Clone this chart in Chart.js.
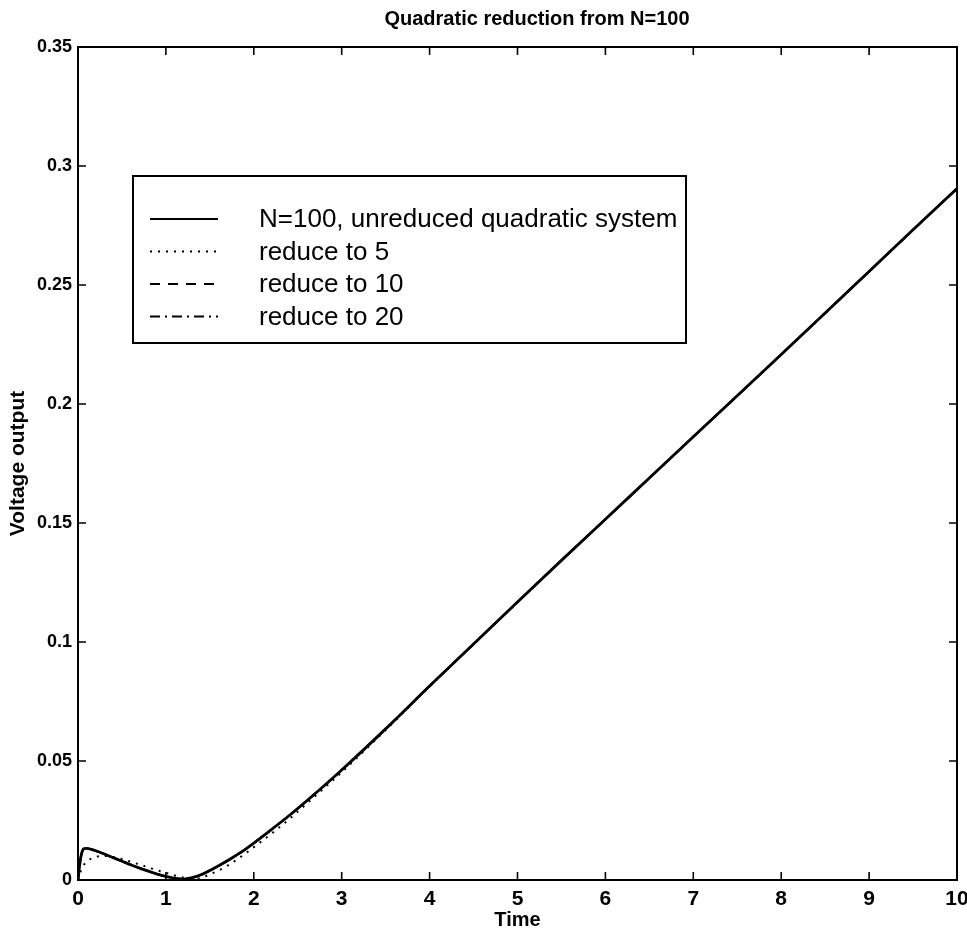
<!DOCTYPE html>
<html>
<head>
<meta charset="utf-8">
<script src="https://cdn.jsdelivr.net/npm/chart.js@4.4.1/dist/chart.umd.min.js"></script>
<style>
  html, body { margin: 0; padding: 0; background: #ffffff; }
  #wrap { width: 967px; height: 944px; }
</style>
</head>
<body>
<div id="wrap"><canvas id="c" width="967" height="944"></canvas></div>
<script>
// ---- data ----
const time = [0, 0.02, 0.04, 0.07, 0.1, 0.15, 0.2, 0.3, 0.4, 0.5, 0.6, 0.7, 0.8, 0.9, 1.0, 1.1, 1.2, 1.3, 1.4, 1.5, 1.6, 1.7, 1.8, 1.9, 2.0, 2.2, 2.4, 2.6, 2.8, 3.0, 3.5, 4.0, 4.5, 5.0, 5.5, 6.0, 6.5, 7.0, 7.5, 8.0, 8.5, 9.0, 9.5, 10.0];
const unreduced = [0, 0.0065, 0.0110, 0.0132, 0.0133, 0.0129, 0.0123, 0.0109, 0.0094, 0.0079, 0.0064, 0.0050, 0.0037, 0.0025, 0.0015, 0.0007, 0.0004, 0.0010, 0.0022, 0.0040, 0.0060, 0.0081, 0.0104, 0.0128, 0.0155, 0.0212, 0.0270, 0.0332, 0.0396, 0.0462, 0.0635, 0.0815, 0.0992, 0.1168, 0.1343, 0.1516, 0.1689, 0.1862, 0.2035, 0.2208, 0.2382, 0.2557, 0.2732, 0.2905];
const reduce5 = [0, 0.0025, 0.0045, 0.0065, 0.0078, 0.0090, 0.0097, 0.0101, 0.0097, 0.0088, 0.0077, 0.0065, 0.0053, 0.0041, 0.0030, 0.0019, 0.0010, 0.0006, 0.0009, 0.0024, 0.0040, 0.0060, 0.0084, 0.0110, 0.0138, 0.0194, 0.0255, 0.0320, 0.0386, 0.0453, 0.0630, 0.0813, 0.0991, 0.1167, 0.1343, 0.1516, 0.1689, 0.1862, 0.2035, 0.2208, 0.2382, 0.2557, 0.2732, 0.2905];
const reduce10 = [0, 0.0065, 0.0110, 0.0132, 0.0133, 0.0129, 0.0123, 0.0109, 0.0094, 0.0079, 0.0064, 0.0050, 0.0037, 0.0025, 0.0015, 0.0007, 0.0004, 0.0010, 0.0022, 0.0040, 0.0060, 0.0081, 0.0104, 0.0128, 0.0155, 0.0212, 0.0270, 0.0332, 0.0396, 0.0462, 0.0635, 0.0815, 0.0992, 0.1168, 0.1343, 0.1516, 0.1689, 0.1862, 0.2035, 0.2208, 0.2382, 0.2557, 0.2732, 0.2905];
const reduce20 = [0, 0.0065, 0.0110, 0.0132, 0.0133, 0.0129, 0.0123, 0.0109, 0.0094, 0.0079, 0.0064, 0.0050, 0.0037, 0.0025, 0.0015, 0.0007, 0.0004, 0.0010, 0.0022, 0.0040, 0.0060, 0.0081, 0.0104, 0.0128, 0.0155, 0.0212, 0.0270, 0.0332, 0.0396, 0.0462, 0.0635, 0.0815, 0.0992, 0.1168, 0.1343, 0.1516, 0.1689, 0.1862, 0.2035, 0.2208, 0.2382, 0.2557, 0.2732, 0.2905];
const seriesLabels = ['N=100, unreduced quadratic system', 'reduce to 5', 'reduce to 10', 'reduce to 20'];
const xTickValues = [0, 1, 2, 3, 4, 5, 6, 7, 8, 9, 10];
const yTickValues = [0, 0.05, 0.1, 0.15, 0.2, 0.25, 0.3, 0.35];
const yTickLabels = ['0', '0.05', '0.1', '0.15', '0.2', '0.25', '0.3', '0.35'];
const titleText = 'Quadratic reduction from N=100';
const xTitle = 'Time';
const yTitle = 'Voltage output';

function pts(ys) { return time.map((t, i) => ({ x: t, y: ys[i] })); }

const INK = '#000000';
const dashes = [[], [2, 6], [10, 8], [10, 5, 2, 5]];
const widths = [2.8, 2, 2, 2];
const seriesData = [unreduced, reduce5, reduce10, reduce20];

// title, frame, inward ticks, legend box
const framePlugin = {
  id: 'frame',
  afterDatasetsDraw(chart) {
    const { ctx, chartArea: a, scales } = chart;
    ctx.save();
    // title
    ctx.fillStyle = INK;
    ctx.font = 'bold 20px "Liberation Sans", Arial, sans-serif';
    ctx.textAlign = 'center';
    ctx.textBaseline = 'middle';
    ctx.fillText(titleText, 537, 19);
    ctx.textAlign = 'left';

    ctx.strokeStyle = INK;
    ctx.lineWidth = 2;
    ctx.strokeRect(a.left, a.top, a.right - a.left, a.bottom - a.top);
    const tl = 8;
    ctx.lineWidth = 1.6;
    ctx.beginPath();
    xTickValues.forEach(v => {
      const px = scales.x.getPixelForValue(v);
      ctx.moveTo(px, a.bottom); ctx.lineTo(px, a.bottom - tl);
      ctx.moveTo(px, a.top); ctx.lineTo(px, a.top + tl);
    });
    yTickValues.forEach(v => {
      const py = scales.y.getPixelForValue(v);
      ctx.moveTo(a.left, py); ctx.lineTo(a.left + tl, py);
      ctx.moveTo(a.right, py); ctx.lineTo(a.right - tl, py);
    });
    ctx.stroke();

    // legend
    const bx = 133, by = 176, bw = 553, bh = 167;
    ctx.fillStyle = '#ffffff';
    ctx.fillRect(bx, by, bw, bh);
    ctx.lineWidth = 2;
    ctx.strokeRect(bx, by, bw, bh);
    ctx.font = '26px "Liberation Sans", Arial, sans-serif';
    ctx.textBaseline = 'middle';
    ctx.fillStyle = INK;
    chart.data.datasets.forEach((ds, i) => {
      const y = 219 + i * 32.5;
      ctx.beginPath();
      ctx.setLineDash(ds.borderDash || []);
      ctx.lineWidth = i === 0 ? 2 : 1.8;
      ctx.moveTo(150, y); ctx.lineTo(218, y);
      ctx.stroke();
      ctx.setLineDash([]);
      ctx.fillText(ds.label, 259, y + 1);
    });
    ctx.restore();
  }
};

new Chart(document.getElementById('c'), {
  type: 'line',
  data: {
    datasets: seriesLabels.map((lab, i) => ({
      label: lab,
      data: pts(seriesData[i]),
      borderColor: INK,
      backgroundColor: INK,
      borderWidth: widths[i],
      borderDash: dashes[i],
      pointRadius: 0,
      fill: false,
      cubicInterpolationMode: 'monotone'
    }))
  },
  options: {
    responsive: false,
    animation: false,
    devicePixelRatio: 1,
    layout: { padding: { left: 0, right: 10, top: 47, bottom: 0 } },
    plugins: {
      legend: { display: false },
      tooltip: { enabled: false },
      title: { display: false }
    },
    scales: {
      x: {
        type: 'linear',
        min: 0, max: 10,
        afterBuildTicks(s) { s.ticks = xTickValues.map(v => ({ value: v })); },
        afterFit(s) { s.height = 64; s.paddingLeft = 0; s.paddingRight = 0; },
        grid: { display: false, drawTicks: false },
        border: { display: false },
        ticks: {
          color: INK, padding: 7, maxRotation: 0, autoSkip: false,
          font: { family: '"Liberation Sans", Arial', size: 21, weight: 'bold' },
          callback: (v) => String(v)
        },
        title: {
          display: true, text: xTitle, color: INK, padding: { top: 0, bottom: 12 },
          font: { family: '"Liberation Sans", Arial', size: 20, weight: 'bold' }
        }
      },
      y: {
        type: 'linear',
        min: 0, max: 0.35,
        afterBuildTicks(s) { s.ticks = yTickValues.map(v => ({ value: v })); },
        afterFit(s) { s.width = 78; s.paddingTop = 0; s.paddingBottom = 0; },
        grid: { display: false, drawTicks: false },
        border: { display: false },
        ticks: {
          color: INK, padding: 6, autoSkip: false,
          font: { family: '"Liberation Sans", Arial', size: 18, weight: 'bold' },
          callback: (v) => yTickLabels[yTickValues.indexOf(v)] ?? ''
        },
        title: {
          display: true, text: yTitle, color: INK, padding: { top: 6, bottom: 0 },
          font: { family: '"Liberation Sans", Arial', size: 21, weight: 'bold' }
        }
      }
    }
  },
  plugins: [framePlugin]
});
</script>
</body>
</html>
